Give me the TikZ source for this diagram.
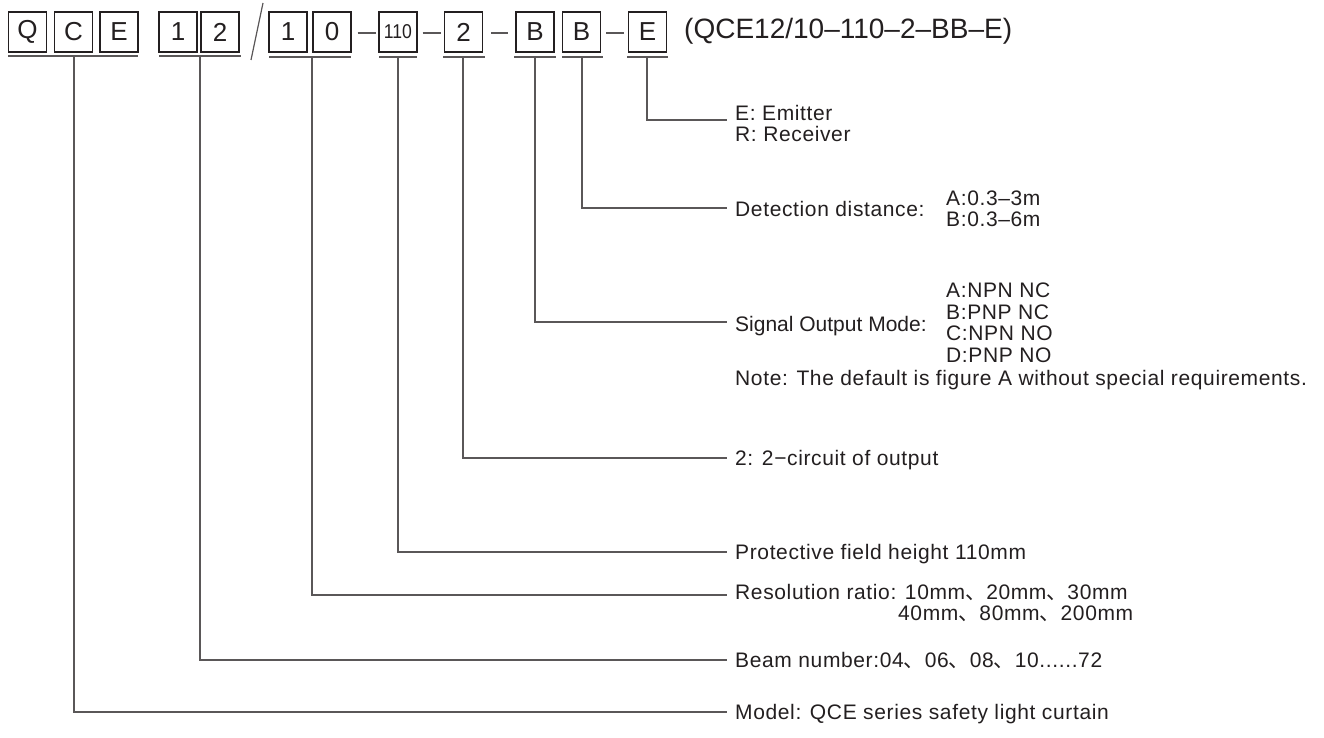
\documentclass[tikz,border=0pt]{standalone}
\usepackage{fontspec}
\setmainfont{Liberation Sans}
\newfontfamily\cjk{Noto Sans CJK SC}
\newcommand\dun{{\cjk 、}}
\definecolor{ink}{HTML}{231F20}
\definecolor{wire}{HTML}{5A5758}
\begin{document}
\begin{tikzpicture}[x=1pt,y=-1pt,
  box/.style={draw=ink, line width=1.1pt, minimum width=38pt, minimum height=40pt, inner sep=0pt, text=ink, font=\fontsize{26}{26}\selectfont},
  smallbox/.style={box, font=\fontsize{20}{20}\selectfont},
  lab/.style={anchor=west, inner sep=0pt, text=ink, font=\fontsize{21}{24}\selectfont\addfontfeature{LetterSpace=3}, text height=15pt, text depth=0pt},
  tightlab/.style={lab, font=\fontsize{21}{24}\selectfont},
  bar/.style={draw=wire, line width=1.4pt},
  wireline/.style={draw=wire, line width=1.2pt},
  dashl/.style={draw=wire, line width=1.2pt}]
\useasboundingbox[fill=white] (0,0) rectangle (1324,738);

% code boxes
\node[box] (bQ) at (27.5,32) {Q};
\node[box] (bC) at (73.5,32) {C};
\node[box] (bE) at (119,32) {E};
\node[box] (b1) at (178,32) {1};
\node[box] (b2) at (220,32) {2};
\node[box] (c1) at (288,32) {1};
\node[box] (c0) at (332,32) {0};
\node[smallbox] (h110) at (398,32) {\scalebox{0.88}[1]{110}};
\node[box] (o2) at (463.5,32) {2};
\node[box] (sB) at (535,32) {B};
\node[box] (dB) at (581.5,32) {B};
\node[box] (rE) at (647.5,32) {E};

% separators
\coordinate (sl1) at (263,3);
\coordinate (sl2) at (251,60);
\draw[dashl] (sl1) -- (sl2);
\draw[dashl] (c0.east) ++(6,1) -- ++(18,0);
\draw[dashl] (h110.east) ++(5,1) -- ++(18,0);
\draw[dashl] (o2.east) ++(8,1) -- ++(17,0);
\draw[dashl] (dB.east) ++(5,1) -- ++(18,0);

% full code
\node[anchor=west, inner sep=0pt, text=ink, font=\fontsize{28}{28}\selectfont] (code) at (684,31) {(QCE12/10–110–2–BB–E)};

% underlines
\draw[bar] (8,56) -- (138,56);
\draw[bar] (159,56) -- (241,56);
\draw[bar] (269,57) -- (351,57);
\draw[bar] (379,57) -- (417,57);
\draw[bar] (443,57) -- (485,57);
\draw[bar] (514,57) -- (556,57);
\draw[bar] (562,57) -- (603,57);
\draw[bar] (627,57) -- (668,57);

% start points of leaders
\coordinate (uQCE) at (74,56);
\coordinate (u12) at (200,56);
\coordinate (u10) at (312,57);
\coordinate (u110) at (398,57);
\coordinate (u2) at (463,57);
\coordinate (uSB) at (535,57);
\coordinate (uDB) at (582,57);
\coordinate (uE) at (647,57);

% end points of leaders
\coordinate (eE) at (727,120);
\coordinate (eDB) at (727,208);
\coordinate (eSB) at (727,322);
\coordinate (e2) at (727,458);
\coordinate (e110) at (727,552);
\coordinate (e10) at (727,595);
\coordinate (e12) at (727,660);
\coordinate (eQCE) at (727,712);

\draw[wireline] (uE) |- (eE);
\draw[wireline] (uDB) |- (eDB);
\draw[wireline] (uSB) |- (eSB);
\draw[wireline] (u2) |- (e2);
\draw[wireline] (u110) |- (e110);
\draw[wireline] (u10) |- (e10);
\draw[wireline] (u12) |- (e12);
\draw[wireline] (uQCE) |- (eQCE);

% labels
\node[lab] (lE1) at (735,113) {E: Emitter};
\node[lab] (lE2) at (735,134) {R: Receiver};
\node[lab] (lD) at (735,209) {Detection distance:};
\node[lab] (lDA) at (946,198) {A:0.3–3m};
\node[lab] (lDB) at (946,219) {B:0.3–6m};
\node[tightlab] (lS) at (735,324) {Signal Output Mode:};
\node[lab] (lSA) at (946,290) {A:NPN NC};
\node[lab] (lSB) at (946,312) {B:PNP NC};
\node[lab] (lSC) at (946,333) {C:NPN NO};
\node[lab] (lSD) at (946,355) {D:PNP NO};
\node[lab] (lN) at (735,378) {Note: The default is figure A without special requirements.};
\node[lab] (l2) at (735,458) {2: 2−circuit of output};
\node[lab] (l110) at (735,552) {Protective field height 110mm};
\node[lab] (l10a) at (735,592) {Resolution ratio: 10mm\dun 20mm\dun 30mm};
\node[lab] (l10b) at (898,613) {40mm\dun 80mm\dun 200mm};
\node[lab] (l12) at (735,660) {Beam number:04\dun 06\dun 08\dun 10......72};
\node[lab] (lQCE) at (735,712) {Model: QCE series safety light curtain};
\end{tikzpicture}
\end{document}
